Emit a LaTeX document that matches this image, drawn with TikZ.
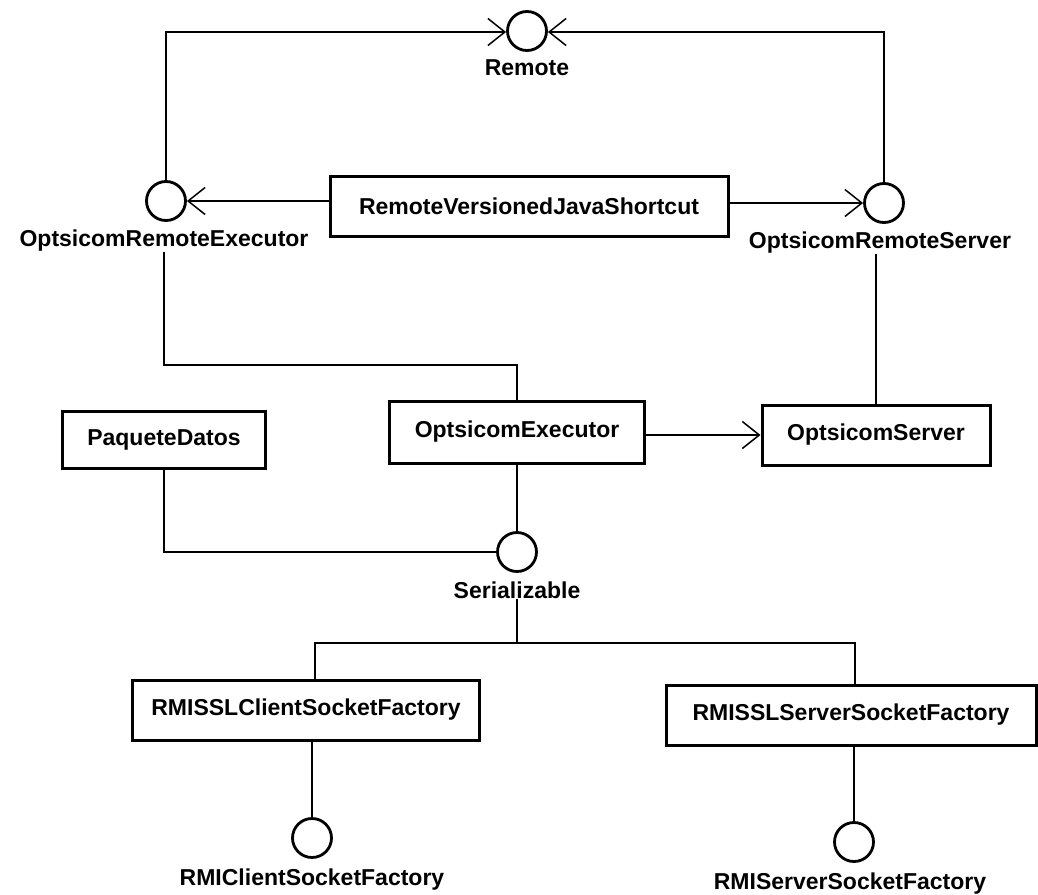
\documentclass[tikz,border=0pt]{standalone}
\usepackage{fontspec}
\setmainfont{Liberation Sans}
\usetikzlibrary{arrows.meta}
\begin{document}
\begin{tikzpicture}[x=1pt,y=-1pt,
  txt/.style={font=\bfseries\fontsize{23}{26}\selectfont},
  cls/.style={txt, draw, line width=3pt, inner sep=0pt},
  iface/.style={circle, draw, line width=2.8pt, minimum size=39pt, inner sep=0pt},
  ilabel/.style={txt, inner sep=0pt},
  conn/.style={line width=1.5pt},
  dep/.style={conn, -{Straight Barb[length=17pt,width=27pt,line width=1.5pt]}}]
\useasboundingbox (0,0) rectangle (1038,894);
\fill[white] (0,0) rectangle (1038,894);

% interfaces (lollipops) with their names below
\node[iface] (remote) at (527,31) {};
\node[ilabel] (remoteL) at (527,68) {Remote};
\node[iface] (orex) at (166,201) {};
\node[ilabel] (orexL) at (164,241) {OptsicomRemoteExecutor};
\node[iface] (orsrv) at (884,203) {};
\node[ilabel] (orsrvL) at (880,243) {OptsicomRemoteServer};
\node[iface] (ser) at (517,552) {};
\node[ilabel] (serL) at (517,590) {Serializable};
\node[iface] (rmic) at (312,838) {};
\node[ilabel] (rmicL) at (312,880) {RMIClientSocketFactory};
\node[iface] (rmis) at (854,842) {};
\node[ilabel] (rmisL) at (850,884) {RMIServerSocketFactory};

% classes
\node[cls, minimum width=398pt, minimum height=60pt] (rvjs) at (529,206) {RemoteVersionedJavaShortcut};
\node[cls, minimum width=255pt, minimum height=62pt] (oexec) at (517,432) {OptsicomExecutor};
\node[cls, minimum width=228pt, minimum height=60pt] (osrv) at (876,435) {OptsicomServer};
\node[cls, minimum width=203pt, minimum height=57pt] (pdat) at (164,440) {PaqueteDatos};
\node[cls, minimum width=347pt, minimum height=60pt] (sslc) at (306,710) {RMISSLClientSocketFactory};
\node[cls, minimum width=370pt, minimum height=60pt] (ssls) at (851,715) {RMISSLServerSocketFactory};

% dependencies on Remote
\draw[dep] (orex.north) |- ([yshift=-1pt]remote.west);
\draw[dep] (orsrv.north) |- ([yshift=-1pt]remote.east);

% shortcut uses both remote interfaces
\draw[dep] (rvjs.west |- orex.east) -- (orex.east);
\draw[dep] (rvjs.east |- orsrv.west) -- (orsrv.west);

% realizations
\coordinate (bendA) at (orexL.south |- 0,365);
\draw[conn] (orexL.south) -- (bendA) -| (oexec.north);
\draw[conn] (orsrvL.south -| osrv.north) -- (osrv.north);
\draw[dep] (oexec.east |- osrv.west) -- (osrv.west);
\draw[conn] (pdat.south) |- (ser.west);
\draw[conn] (oexec.south) -- (ser.north);

\coordinate (split) at (517,643);
\draw[conn] (serL.south) -- (split);
\draw[conn] (split) -| ([xshift=9pt]sslc.north);
\draw[conn] (split) -| ([xshift=4pt]ssls.north);
\draw[conn] (rmic.north |- sslc.south) -- (rmic.north);
\draw[conn] (rmis.north |- ssls.south) -- (rmis.north);
\end{tikzpicture}
\end{document}
